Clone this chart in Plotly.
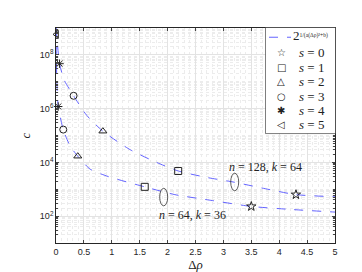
import plotly.graph_objects as go

# ---- data ----
# fitted curves (upper: n=128,k=64 ; lower: n=64,k=36), y as log10(c)
upper_x = [0.0, 0.01, 0.064, 0.15, 0.315, 0.55, 0.84, 1.33, 1.8, 2.19, 2.7, 3.2, 3.75, 4.3, 5.0]
upper_logy = [9.0, 8.76, 7.67, 7.05, 6.48, 5.75, 5.16, 4.47, 4.0, 3.68, 3.44, 3.26, 3.02, 2.80, 2.72]
lower_x = [0.0, 0.005, 0.015, 0.04, 0.13, 0.25, 0.39, 0.61, 0.94, 1.59, 2.13, 2.8, 3.5, 4.2, 5.0]
lower_logy = [9.0, 8.2, 7.0, 6.08, 5.22, 4.62, 4.23, 3.75, 3.47, 3.09, 2.80, 2.58, 2.36, 2.25, 2.15]

# measured points for each s (upper curve point first, then lower)
s_values = [0, 1, 2, 3, 4, 5]
s_x = [[4.3, 3.5], [2.19, 1.59], [0.84, 0.39], [0.315, 0.13], [0.064, 0.04], [0.01]]
s_c = [[631, 229], [4786, 1230], [1.45e5, 1.7e4], [3.0e6, 1.66e5], [4.7e7, 1.2e6], [5.8e8]]
s_symbols = ["star-open", "square-open", "triangle-up-open", "circle-open", "asterisk-open", "triangle-left-open"]
s_glyphs = ["☆", "□", "△", "○", "✱", "◁"]
formula_exp = "1/(a(Δρ)²+b)"

x_ticks = [0, 0.5, 1, 1.5, 2, 2.5, 3, 3.5, 4, 4.5, 5]
y_tickvals = [1e2, 1e4, 1e6, 1e8]
y_ticktext = ["10<sup>2</sup>", "10<sup>4</sup>", "10<sup>6</sup>", "10<sup>8</sup>"]

serif = "Liberation Serif"
axc = "#262626"
ink = "#222222"
curve_color = "#6464ff"

W, H = 362, 272
ML, MR, MT, MB = 48, 35, 20, 31
PW, PH = W - ML - MR, H - MT - MB


def px(x):
    return (x - ML) / PW


def py(y):
    return 1 - (y - MT) / PH


fig = go.Figure()
for cx_, cy_ in [(upper_x, upper_logy), (lower_x, lower_logy)]:
    fig.add_trace(go.Scatter(
        x=cx_, y=[10 ** v for v in cy_], mode="lines",
        line=dict(color=curve_color, dash="dash", width=1, shape="spline", smoothing=0.6),
        name="2<sup>" + formula_exp + "</sup>"))

for sv, xs, cs, sym in zip(s_values, s_x, s_c, s_symbols):
    fig.add_trace(go.Scatter(
        x=xs, y=cs, mode="markers", name="<i>s</i> = %d" % sv, cliponaxis=False,
        marker=dict(symbol=sym, size=7, color=ink, line=dict(color=ink, width=1))))

# ellipses marking the two curves
for cx, cy in [(226.7, 178.3), (155.7, 193.8)]:
    fig.add_shape(type="circle", xref="paper", yref="paper",
                  x0=px(cx - 4), x1=px(cx + 4), y0=py(cy + 9), y1=py(cy - 9),
                  line=dict(color="#333333", width=0.8))

fig.add_annotation(x=3.76, y=3.84, xref="x", yref="y", showarrow=False,
                   text="<i>n</i> = 128, <i>k</i> = 64",
                   font=dict(family=serif, size=12, color=ink))
fig.add_annotation(x=2.44, y=2.03, xref="x", yref="y", showarrow=False,
                   text="<i>n</i> = 64, <i>k</i> = 36",
                   font=dict(family=serif, size=12, color=ink))

# compact legend box (MATLAB style)
fig.add_shape(type="rect", xref="paper", yref="paper",
              x0=px(257.5), x1=px(327.5), y0=py(128.5), y1=py(19.5),
              fillcolor="white", line=dict(color=axc, width=0.6), layer="above")
fig.add_shape(type="line", xref="paper", yref="paper",
              x0=px(261), x1=px(283), y0=py(29.5), y1=py(29.5),
              line=dict(color=curve_color, dash="dash", width=1), layer="above")
fig.add_annotation(x=px(283), y=py(28), xref="paper", yref="paper",
                   xanchor="left", yanchor="middle", showarrow=False,
                   text="<span style='font-size:13px'>2</span><sup>" + formula_exp + "</sup>",
                   font=dict(family=serif, size=8, color=ink))
row_y = [45, 60.5, 75.5, 90.3, 105, 119.3]
for sv, g, ry in zip(s_values, s_glyphs, row_y):
    fig.add_annotation(x=px(273.3), y=py(ry), xref="paper", yref="paper",
                       xanchor="center", yanchor="middle", showarrow=False,
                       text=g, font=dict(family="DejaVu Sans", size=10, color=ink))
    fig.add_annotation(x=px(288.5), y=py(ry), xref="paper", yref="paper",
                       xanchor="left", yanchor="middle", showarrow=False,
                       text="<i>s</i> = %d" % sv,
                       font=dict(family=serif, size=13, color=ink))

fig.update_layout(
    width=W, height=H,
    margin=dict(l=ML, r=MR, t=MT, b=MB),
    paper_bgcolor="white", plot_bgcolor="white",
    showlegend=False,
    font=dict(family="Liberation Sans", size=9, color=axc),
    xaxis=dict(range=[0, 5], tickvals=x_ticks, ticks="inside", ticklen=3,
               showline=True, linecolor=axc, linewidth=0.6, mirror="allticks",
               showgrid=True, gridcolor="#e3e3e3", gridwidth=0.6, zeroline=False,
               tickfont=dict(size=9, color=axc),
               minor=dict(dtick=0.1, showgrid=True, gridcolor="#ececec",
                          griddash="dot", gridwidth=0.6, ticks=""),
               title=dict(text="Δ<i>ρ</i>", font=dict(family=serif, size=13, color=ink),
                          standoff=2)),
    yaxis=dict(type="log", range=[1, 9], tickvals=y_tickvals, ticktext=y_ticktext,
               ticks="inside", ticklen=3,
               showline=True, linecolor=axc, linewidth=0.6, mirror="allticks",
               showgrid=True, gridcolor="#e3e3e3", gridwidth=0.6, zeroline=False,
               tickfont=dict(size=9, color=axc),
               minor=dict(dtick="D1", showgrid=True, gridcolor="#ececec",
                          griddash="dot", gridwidth=0.6, ticks="inside", ticklen=2),
               title=dict(text="<i>c</i>", font=dict(family=serif, size=13, color=ink),
                          standoff=6)),
)

fig.write_html("out.html")
